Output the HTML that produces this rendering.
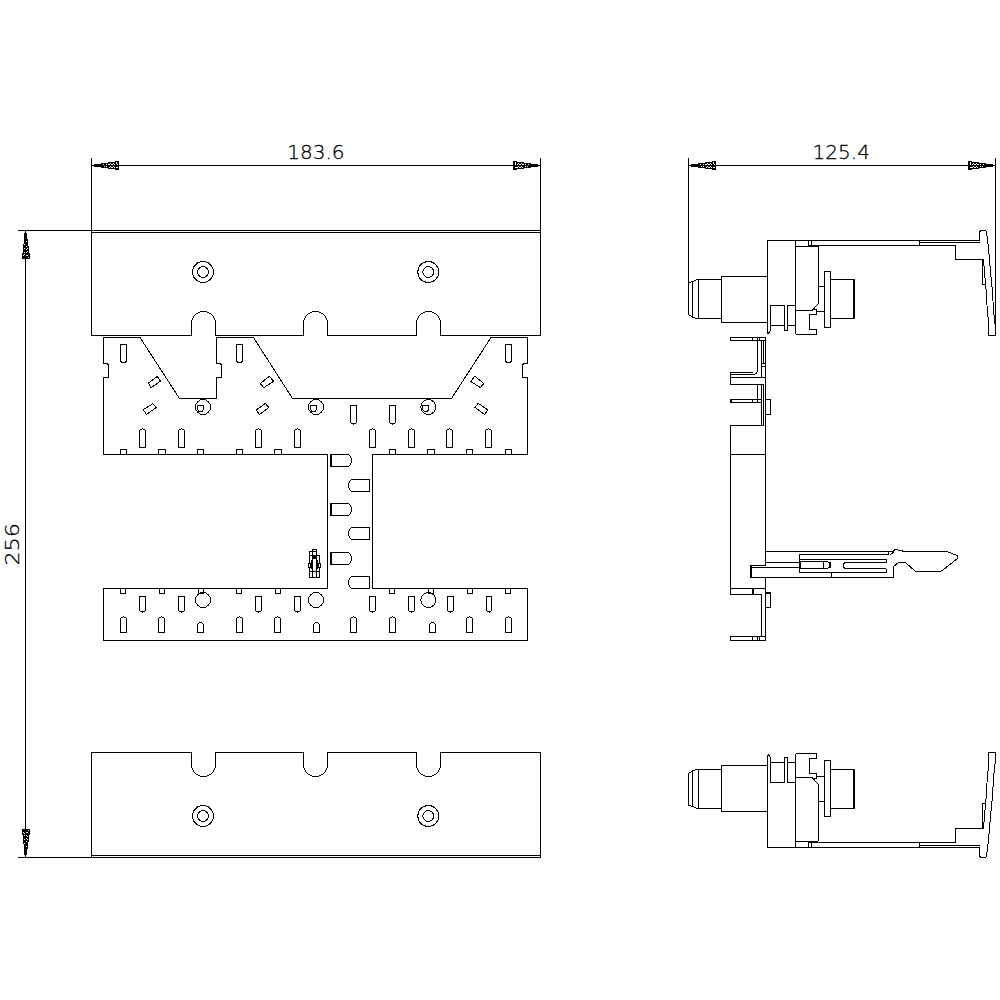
<!DOCTYPE html>
<html lang="en">
<head>
<meta charset="utf-8">
<title>Dimension drawing</title>
<style>
html,body{margin:0;padding:0;background:#fff;}
body{width:1000px;height:1000px;overflow:hidden;}
svg{display:block;}
svg *{vector-effect:none;}
.g{fill:none;stroke:#000;stroke-width:1;shape-rendering:crispEdges;}
.g .c{shape-rendering:crispEdges;}
text{font-family:"DejaVu Sans Light","DejaVu Sans","Liberation Sans",sans-serif;font-weight:200;fill:#000;stroke:#000;stroke-width:0.3;}
</style>
</head>
<body>
<svg width="1000" height="1000" viewBox="0 0 1000 1000">
<rect x="0" y="0" width="1000" height="1000" fill="#fff"/>
<g class="g">
<g>
<path d="M91.5,232.5 V335.5 H191.5 V323.5 A12,12 0 0 1 215.5,323.5 V335.5 H303.5 V323.5 A12,12 0 0 1 327.5,323.5 V335.5 H416.5 V323.5 A12,12 0 0 1 440.5,323.5 V335.5 H540.5 V232.5" />
<line x1="91.5" y1="232.5" x2="540.5" y2="232.5" />
<line x1="91.5" y1="230.5" x2="540.5" y2="230.5" />
<line x1="91.5" y1="230.5" x2="91.5" y2="232.5" />
<line x1="540.5" y1="230.5" x2="540.5" y2="232.5" />
<circle cx="203" cy="272" r="10.5" class="c"/>
<circle cx="203" cy="272" r="5.4" class="c"/>
<circle cx="428.3" cy="272" r="10.5" class="c"/>
<circle cx="428.3" cy="272" r="5.4" class="c"/>
</g>
<g transform="translate(0,1088) scale(1,-1)">
<path d="M91.5,232.5 V335.5 H191.5 V323.5 A12,12 0 0 1 215.5,323.5 V335.5 H303.5 V323.5 A12,12 0 0 1 327.5,323.5 V335.5 H416.5 V323.5 A12,12 0 0 1 440.5,323.5 V335.5 H540.5 V232.5" />
<line x1="91.5" y1="232.5" x2="540.5" y2="232.5" />
<line x1="91.5" y1="230.5" x2="540.5" y2="230.5" />
<line x1="91.5" y1="230.5" x2="91.5" y2="232.5" />
<line x1="540.5" y1="230.5" x2="540.5" y2="232.5" />
<circle cx="203" cy="272" r="10.5" class="c"/>
<circle cx="203" cy="272" r="5.4" class="c"/>
<circle cx="428.3" cy="272" r="10.5" class="c"/>
<circle cx="428.3" cy="272" r="5.4" class="c"/>
</g>
<path d="M103.5,337.5 H140 L179.5,398.5 H216.5 V377.5 H221.5 V365 L220,363.5 H216.5 V337.5 H253.5 L292.5,398.5 H451.5 L491,337.5 H527.5 V363.5 H524 L522.5,365 V377.5 H527.5 V454.5 H372.5 V588.5 H527.5 V640.5 H103.5 V588.5 H327.5 V454.5 H103.5 V377.5 H108.5 V365 L107,363.5 H103.5 Z" />
<path d="M120.5,344.5 H126.5 V359.5 A3.0,3.0 0 0 1 120.5,359.5 Z" />
<path d="M236.5,344.5 H242.5 V359.5 A3.0,3.0 0 0 1 236.5,359.5 Z" />
<path d="M505.5,344.5 H511.5 V359.5 A3.0,3.0 0 0 1 505.5,359.5 Z" />
<polygon class="c" points="148.3,383.2 157.3,376.3 160.5,381.1 151.2,387.7"/>
<polygon class="c" points="143.2,409.6 152.8,403.7 156.3,407.5 146.4,414.4"/>
<polygon class="c" points="260.3,383.5 269.3,376.3 273.6,381.3 263.7,387.7"/>
<polygon class="c" points="256.3,409.9 265.3,403.5 268.8,407.5 259.5,414.6"/>
<polygon class="c" points="470.8,381.5 474.8,376.3 483.8,383.5 480.3,387.6"/>
<polygon class="c" points="475,407.5 478.3,403.3 487.8,410 484.5,414.5"/>
<circle cx="203" cy="407" r="7.5" class="c"/>
<circle cx="316" cy="407" r="7.5" class="c"/>
<circle cx="428.3" cy="407" r="7.5" class="c"/>
<path d="M197.5,405.5 H203.5 V409.5 L202.0,411.5 H199.0 L197.5,409.5 Z" />
<path d="M310.5,405.5 H316.5 V409.5 L315.0,411.5 H312.0 L310.5,409.5 Z" />
<path d="M422.8,405.5 H428.8 V409.5 L427.3,411.5 H424.3 L422.8,409.5 Z" />
<path d="M350.5,423.0 V405.5 H356.5 V423.0" />
<line x1="351.0" y1="423.5" x2="356.0" y2="423.5" />
<rect x="353.0" y="424.0" width="1" height="1" fill="#000" stroke="none"/>
<path d="M389.5,423.0 V405.5 H395.5 V423.0" />
<line x1="390.0" y1="423.5" x2="395.0" y2="423.5" />
<rect x="392.0" y="424.0" width="1" height="1" fill="#000" stroke="none"/>
<path d="M139.5,430.0 V447.5 H145.5 V430.0" />
<rect x="142.0" y="428.0" width="1" height="1" fill="#000" stroke="none"/>
<rect x="140.0" y="429.0" width="2.0" height="1" fill="#000" stroke="none"/>
<rect x="143.0" y="429.0" width="2.0" height="1" fill="#000" stroke="none"/>
<path d="M178.5,430.0 V447.5 H184.5 V430.0" />
<rect x="181.0" y="428.0" width="1" height="1" fill="#000" stroke="none"/>
<rect x="179.0" y="429.0" width="2.0" height="1" fill="#000" stroke="none"/>
<rect x="182.0" y="429.0" width="2.0" height="1" fill="#000" stroke="none"/>
<path d="M255.5,430.0 V447.5 H261.5 V430.0" />
<rect x="258.0" y="428.0" width="1" height="1" fill="#000" stroke="none"/>
<rect x="256.0" y="429.0" width="2.0" height="1" fill="#000" stroke="none"/>
<rect x="259.0" y="429.0" width="2.0" height="1" fill="#000" stroke="none"/>
<path d="M294.5,430.0 V447.5 H300.5 V430.0" />
<rect x="297.0" y="428.0" width="1" height="1" fill="#000" stroke="none"/>
<rect x="295.0" y="429.0" width="2.0" height="1" fill="#000" stroke="none"/>
<rect x="298.0" y="429.0" width="2.0" height="1" fill="#000" stroke="none"/>
<path d="M369.5,430.0 V447.5 H375.5 V430.0" />
<rect x="372.0" y="428.0" width="1" height="1" fill="#000" stroke="none"/>
<rect x="370.0" y="429.0" width="2.0" height="1" fill="#000" stroke="none"/>
<rect x="373.0" y="429.0" width="2.0" height="1" fill="#000" stroke="none"/>
<path d="M408.5,430.0 V447.5 H414.5 V430.0" />
<rect x="411.0" y="428.0" width="1" height="1" fill="#000" stroke="none"/>
<rect x="409.0" y="429.0" width="2.0" height="1" fill="#000" stroke="none"/>
<rect x="412.0" y="429.0" width="2.0" height="1" fill="#000" stroke="none"/>
<path d="M446.5,430.0 V447.5 H452.5 V430.0" />
<rect x="449.0" y="428.0" width="1" height="1" fill="#000" stroke="none"/>
<rect x="447.0" y="429.0" width="2.0" height="1" fill="#000" stroke="none"/>
<rect x="450.0" y="429.0" width="2.0" height="1" fill="#000" stroke="none"/>
<path d="M485.5,430.0 V447.5 H491.5 V430.0" />
<rect x="488.0" y="428.0" width="1" height="1" fill="#000" stroke="none"/>
<rect x="486.0" y="429.0" width="2.0" height="1" fill="#000" stroke="none"/>
<rect x="489.0" y="429.0" width="2.0" height="1" fill="#000" stroke="none"/>
<rect x="120.5" y="449.5" width="6.0" height="5.0" />
<rect x="158.5" y="449.5" width="7.0" height="5.0" />
<rect x="197.5" y="449.5" width="6.0" height="5.0" />
<rect x="236.5" y="449.5" width="6.0" height="5.0" />
<rect x="274.5" y="449.5" width="7.0" height="5.0" />
<rect x="389.5" y="449.5" width="6.0" height="5.0" />
<rect x="427.5" y="449.5" width="7.0" height="5.0" />
<rect x="466.5" y="449.5" width="6.0" height="5.0" />
<rect x="505.5" y="449.5" width="6.0" height="5.0" />
<path d="M330.5,454.5 H347 A4.5,6 0 0 1 347,466.5 H330.5 Z" class="c"/>
<line x1="331.5" y1="454.5" x2="331.5" y2="466.5" />
<path d="M330.5,503.5 H347 A4.5,6 0 0 1 347,515.5 H330.5 Z" class="c"/>
<line x1="331.5" y1="503.5" x2="331.5" y2="515.5" />
<path d="M330.5,552.5 H347 A4.5,6 0 0 1 347,564.5 H330.5 Z" class="c"/>
<line x1="331.5" y1="552.5" x2="331.5" y2="564.5" />
<path d="M369.5,479.5 H353 A4.5,6 0 0 0 353,491.5 H369.5 Z" class="c"/>
<path d="M369.5,527.5 H353 A4.5,6 0 0 0 353,539.5 H369.5 Z" class="c"/>
<path d="M369.5,576.5 H353 A4.5,6 0 0 0 353,588.5 H369.5 Z" class="c"/>
<rect x="120.5" y="588.5" width="5.0" height="5.0" />
<rect x="159.5" y="588.5" width="5.0" height="5.0" />
<rect x="198.5" y="588.5" width="5.0" height="5.0" />
<rect x="236.5" y="588.5" width="5.0" height="5.0" />
<rect x="275.5" y="588.5" width="5.0" height="5.0" />
<rect x="389.5" y="588.5" width="5.0" height="5.0" />
<rect x="428.5" y="588.5" width="5.0" height="5.0" />
<rect x="467.5" y="588.5" width="5.0" height="5.0" />
<rect x="505.5" y="588.5" width="5.0" height="5.0" />
<path d="M139.5,611.0 V596.5 H145.5 V611.0" />
<line x1="140.0" y1="611.5" x2="145.0" y2="611.5" />
<rect x="142.0" y="612.0" width="1" height="1" fill="#000" stroke="none"/>
<path d="M178.5,611.0 V596.5 H184.5 V611.0" />
<line x1="179.0" y1="611.5" x2="184.0" y2="611.5" />
<rect x="181.0" y="612.0" width="1" height="1" fill="#000" stroke="none"/>
<path d="M255.5,611.0 V596.5 H261.5 V611.0" />
<line x1="256.0" y1="611.5" x2="261.0" y2="611.5" />
<rect x="258.0" y="612.0" width="1" height="1" fill="#000" stroke="none"/>
<path d="M294.5,611.0 V596.5 H300.5 V611.0" />
<line x1="295.0" y1="611.5" x2="300.0" y2="611.5" />
<rect x="297.0" y="612.0" width="1" height="1" fill="#000" stroke="none"/>
<path d="M369.5,611.0 V596.5 H375.5 V611.0" />
<line x1="370.0" y1="611.5" x2="375.0" y2="611.5" />
<rect x="372.0" y="612.0" width="1" height="1" fill="#000" stroke="none"/>
<path d="M408.5,611.0 V596.5 H414.5 V611.0" />
<line x1="409.0" y1="611.5" x2="414.0" y2="611.5" />
<rect x="411.0" y="612.0" width="1" height="1" fill="#000" stroke="none"/>
<path d="M447.5,611.0 V596.5 H453.5 V611.0" />
<line x1="448.0" y1="611.5" x2="453.0" y2="611.5" />
<rect x="450.0" y="612.0" width="1" height="1" fill="#000" stroke="none"/>
<path d="M486.5,611.0 V596.5 H491.5 V611.0" />
<line x1="487.0" y1="611.5" x2="491.0" y2="611.5" />
<rect x="488.5" y="612.0" width="1" height="1" fill="#000" stroke="none"/>
<circle cx="203" cy="600" r="7.5" class="c"/>
<circle cx="316" cy="600" r="7.5" class="c"/>
<circle cx="428.3" cy="600" r="7.5" class="c"/>
<path d="M120.5,618.0 V632.5 H126.5 V618.0" />
<rect x="123.0" y="616.0" width="1" height="1" fill="#000" stroke="none"/>
<rect x="121.0" y="617.0" width="2.0" height="1" fill="#000" stroke="none"/>
<rect x="124.0" y="617.0" width="2.0" height="1" fill="#000" stroke="none"/>
<path d="M158.5,618.0 V632.5 H164.5 V618.0" />
<rect x="161.0" y="616.0" width="1" height="1" fill="#000" stroke="none"/>
<rect x="159.0" y="617.0" width="2.0" height="1" fill="#000" stroke="none"/>
<rect x="162.0" y="617.0" width="2.0" height="1" fill="#000" stroke="none"/>
<path d="M236.5,618.0 V632.5 H242.5 V618.0" />
<rect x="239.0" y="616.0" width="1" height="1" fill="#000" stroke="none"/>
<rect x="237.0" y="617.0" width="2.0" height="1" fill="#000" stroke="none"/>
<rect x="240.0" y="617.0" width="2.0" height="1" fill="#000" stroke="none"/>
<path d="M274.5,618.0 V632.5 H280.5 V618.0" />
<rect x="277.0" y="616.0" width="1" height="1" fill="#000" stroke="none"/>
<rect x="275.0" y="617.0" width="2.0" height="1" fill="#000" stroke="none"/>
<rect x="278.0" y="617.0" width="2.0" height="1" fill="#000" stroke="none"/>
<path d="M350.5,618.0 V632.5 H356.5 V618.0" />
<rect x="353.0" y="616.0" width="1" height="1" fill="#000" stroke="none"/>
<rect x="351.0" y="617.0" width="2.0" height="1" fill="#000" stroke="none"/>
<rect x="354.0" y="617.0" width="2.0" height="1" fill="#000" stroke="none"/>
<path d="M389.5,618.0 V632.5 H395.5 V618.0" />
<rect x="392.0" y="616.0" width="1" height="1" fill="#000" stroke="none"/>
<rect x="390.0" y="617.0" width="2.0" height="1" fill="#000" stroke="none"/>
<rect x="393.0" y="617.0" width="2.0" height="1" fill="#000" stroke="none"/>
<path d="M466.5,618.0 V632.5 H472.5 V618.0" />
<rect x="469.0" y="616.0" width="1" height="1" fill="#000" stroke="none"/>
<rect x="467.0" y="617.0" width="2.0" height="1" fill="#000" stroke="none"/>
<rect x="470.0" y="617.0" width="2.0" height="1" fill="#000" stroke="none"/>
<path d="M505.5,618.0 V632.5 H511.5 V618.0" />
<rect x="508.0" y="616.0" width="1" height="1" fill="#000" stroke="none"/>
<rect x="506.0" y="617.0" width="2.0" height="1" fill="#000" stroke="none"/>
<rect x="509.0" y="617.0" width="2.0" height="1" fill="#000" stroke="none"/>
<path d="M197.5,632.5 H203.5 V625.5 A3.0,3.0 0 0 0 197.5,625.5 Z" />
<path d="M313.5,632.5 H319.5 V625.5 A3.0,3.0 0 0 0 313.5,625.5 Z" />
<path d="M429.5,632.5 H435.5 V625.5 A3.0,3.0 0 0 0 429.5,625.5 Z" />
<g>
<path d="M309.5,577.5 V551.5 H316.5 M309.5,555.5 H319.5 V577.5 H309.5" />
<rect x="312.5" y="549.5" width="4.0" height="2.0" />
<line x1="312.5" y1="549.5" x2="312.5" y2="577.5" />
<line x1="316.5" y1="549.5" x2="316.5" y2="577.5" />
<rect x="312" y="556" width="5" height="3" fill="#000" stroke="none"/>
<rect x="311" y="560" width="7" height="9" fill="#000" stroke="none"/>
<rect x="308" y="563" width="13" height="5" fill="#000" stroke="none"/>
<rect x="313" y="559" width="3" height="12" fill="#fff" stroke="none"/>
<rect x="309" y="564" width="1" height="3" fill="#fff" stroke="none"/>
<rect x="319" y="564" width="1" height="3" fill="#fff" stroke="none"/>
<line x1="309.5" y1="571.5" x2="319.5" y2="571.5" />
</g>
<line x1="91.5" y1="158" x2="91.5" y2="230.5" />
<line x1="540.5" y1="158" x2="540.5" y2="230.5" />
<line x1="91.5" y1="165.5" x2="540.5" y2="165.5" />
<rect x="94.0" y="164.0" width="7.0" height="3.0" fill="#000" stroke="none"/>
<rect x="101.0" y="163.0" width="7.0" height="5.0" fill="#000" stroke="none"/>
<rect x="108.0" y="162.0" width="7.0" height="7.0" fill="#000" stroke="none"/>
<rect x="115.0" y="161.0" width="4.0" height="9.0" fill="#000" stroke="none"/>
<rect x="103.0" y="164.0" width="1" height="1" fill="#fff" stroke="none"/>
<rect x="106.0" y="164.0" width="1" height="1" fill="#fff" stroke="none"/>
<rect x="104.0" y="166.0" width="1" height="1" fill="#fff" stroke="none"/>
<rect x="106.0" y="166.0" width="1" height="1" fill="#fff" stroke="none"/>
<rect x="108.0" y="164.0" width="1" height="1" fill="#fff" stroke="none"/>
<rect x="109.0" y="164.0" width="1" height="1" fill="#fff" stroke="none"/>
<rect x="110.0" y="163.0" width="1" height="1" fill="#fff" stroke="none"/>
<rect x="111.0" y="164.0" width="1" height="1" fill="#fff" stroke="none"/>
<rect x="112.0" y="164.0" width="1" height="1" fill="#fff" stroke="none"/>
<rect x="113.0" y="163.0" width="1" height="1" fill="#fff" stroke="none"/>
<rect x="114.0" y="164.0" width="1" height="1" fill="#fff" stroke="none"/>
<rect x="109.0" y="167.0" width="1" height="1" fill="#fff" stroke="none"/>
<rect x="110.0" y="166.0" width="1" height="1" fill="#fff" stroke="none"/>
<rect x="111.0" y="167.0" width="1" height="1" fill="#fff" stroke="none"/>
<rect x="112.0" y="167.0" width="1" height="1" fill="#fff" stroke="none"/>
<rect x="113.0" y="166.0" width="1" height="1" fill="#fff" stroke="none"/>
<rect x="114.0" y="167.0" width="1" height="1" fill="#fff" stroke="none"/>
<rect x="115.5" y="167.0" width="1" height="1" fill="#fff" stroke="none"/>
<rect x="116.5" y="167.0" width="1" height="1" fill="#fff" stroke="none"/>
<rect x="116.0" y="162.0" width="1" height="1" fill="#fff" stroke="none"/>
<rect x="116.0" y="163.0" width="1" height="1" fill="#fff" stroke="none"/>
<rect x="116.5" y="164.0" width="1" height="1" fill="#fff" stroke="none"/>
<rect x="531.0" y="164.0" width="7.0" height="3.0" fill="#000" stroke="none"/>
<rect x="524.0" y="163.0" width="7.0" height="5.0" fill="#000" stroke="none"/>
<rect x="517.0" y="162.0" width="7.0" height="7.0" fill="#000" stroke="none"/>
<rect x="513.0" y="161.0" width="4.0" height="9.0" fill="#000" stroke="none"/>
<rect x="528.0" y="164.0" width="1" height="1" fill="#fff" stroke="none"/>
<rect x="525.0" y="164.0" width="1" height="1" fill="#fff" stroke="none"/>
<rect x="527.0" y="166.0" width="1" height="1" fill="#fff" stroke="none"/>
<rect x="525.0" y="166.0" width="1" height="1" fill="#fff" stroke="none"/>
<rect x="523.0" y="164.0" width="1" height="1" fill="#fff" stroke="none"/>
<rect x="522.0" y="164.0" width="1" height="1" fill="#fff" stroke="none"/>
<rect x="521.0" y="163.0" width="1" height="1" fill="#fff" stroke="none"/>
<rect x="520.0" y="164.0" width="1" height="1" fill="#fff" stroke="none"/>
<rect x="519.0" y="164.0" width="1" height="1" fill="#fff" stroke="none"/>
<rect x="518.0" y="163.0" width="1" height="1" fill="#fff" stroke="none"/>
<rect x="517.0" y="164.0" width="1" height="1" fill="#fff" stroke="none"/>
<rect x="522.0" y="167.0" width="1" height="1" fill="#fff" stroke="none"/>
<rect x="521.0" y="166.0" width="1" height="1" fill="#fff" stroke="none"/>
<rect x="520.0" y="167.0" width="1" height="1" fill="#fff" stroke="none"/>
<rect x="519.0" y="167.0" width="1" height="1" fill="#fff" stroke="none"/>
<rect x="518.0" y="166.0" width="1" height="1" fill="#fff" stroke="none"/>
<rect x="517.0" y="167.0" width="1" height="1" fill="#fff" stroke="none"/>
<rect x="515.5" y="167.0" width="1" height="1" fill="#fff" stroke="none"/>
<rect x="514.5" y="167.0" width="1" height="1" fill="#fff" stroke="none"/>
<rect x="515.0" y="162.0" width="1" height="1" fill="#fff" stroke="none"/>
<rect x="515.0" y="163.0" width="1" height="1" fill="#fff" stroke="none"/>
<rect x="514.5" y="164.0" width="1" height="1" fill="#fff" stroke="none"/>
<line x1="18" y1="230.5" x2="91.5" y2="230.5" />
<line x1="18" y1="857.5" x2="91.5" y2="857.5" />
<line x1="25.5" y1="230.5" x2="25.5" y2="857.5" />
<rect x="24.0" y="233.0" width="3.0" height="6.0" fill="#000" stroke="none"/>
<rect x="24.0" y="239.0" width="4.0" height="5.0" fill="#000" stroke="none"/>
<rect x="23.0" y="244.0" width="5.0" height="2.0" fill="#000" stroke="none"/>
<rect x="23.0" y="246.0" width="6.0" height="7.0" fill="#000" stroke="none"/>
<rect x="22.0" y="253.0" width="8.0" height="6.0" fill="#000" stroke="none"/>
<rect x="26.0" y="241.0" width="1" height="1" fill="#fff" stroke="none"/>
<rect x="24.0" y="244.0" width="1" height="1" fill="#fff" stroke="none"/>
<rect x="26.0" y="246.0" width="1" height="1" fill="#fff" stroke="none"/>
<rect x="24.0" y="248.0" width="1" height="1" fill="#fff" stroke="none"/>
<rect x="27.0" y="248.0" width="1" height="1" fill="#fff" stroke="none"/>
<rect x="26.0" y="249.0" width="1" height="1" fill="#fff" stroke="none"/>
<rect x="27.0" y="251.0" width="1" height="1" fill="#fff" stroke="none"/>
<rect x="24.0" y="252.0" width="1" height="1" fill="#fff" stroke="none"/>
<rect x="26.0" y="252.0" width="1" height="1" fill="#fff" stroke="none"/>
<rect x="23.0" y="255.0" width="1" height="1" fill="#fff" stroke="none"/>
<rect x="24.0" y="254.0" width="1" height="1" fill="#fff" stroke="none"/>
<rect x="26.0" y="255.0" width="1" height="1" fill="#fff" stroke="none"/>
<rect x="27.0" y="255.0" width="1" height="1" fill="#fff" stroke="none"/>
<rect x="28.0" y="257.0" width="1" height="1" fill="#fff" stroke="none"/>
<rect x="24.0" y="849.0" width="3.0" height="6.0" fill="#000" stroke="none"/>
<rect x="24.0" y="844.0" width="4.0" height="5.0" fill="#000" stroke="none"/>
<rect x="23.0" y="842.0" width="5.0" height="2.0" fill="#000" stroke="none"/>
<rect x="23.0" y="835.0" width="6.0" height="7.0" fill="#000" stroke="none"/>
<rect x="22.0" y="829.0" width="8.0" height="6.0" fill="#000" stroke="none"/>
<rect x="26.0" y="846.0" width="1" height="1" fill="#fff" stroke="none"/>
<rect x="24.0" y="843.0" width="1" height="1" fill="#fff" stroke="none"/>
<rect x="26.0" y="841.0" width="1" height="1" fill="#fff" stroke="none"/>
<rect x="24.0" y="839.0" width="1" height="1" fill="#fff" stroke="none"/>
<rect x="27.0" y="839.0" width="1" height="1" fill="#fff" stroke="none"/>
<rect x="26.0" y="838.0" width="1" height="1" fill="#fff" stroke="none"/>
<rect x="27.0" y="836.0" width="1" height="1" fill="#fff" stroke="none"/>
<rect x="24.0" y="835.0" width="1" height="1" fill="#fff" stroke="none"/>
<rect x="26.0" y="835.0" width="1" height="1" fill="#fff" stroke="none"/>
<rect x="23.0" y="832.0" width="1" height="1" fill="#fff" stroke="none"/>
<rect x="24.0" y="833.0" width="1" height="1" fill="#fff" stroke="none"/>
<rect x="26.0" y="832.0" width="1" height="1" fill="#fff" stroke="none"/>
<rect x="27.0" y="832.0" width="1" height="1" fill="#fff" stroke="none"/>
<rect x="28.0" y="830.0" width="1" height="1" fill="#fff" stroke="none"/>
<line x1="688.5" y1="158" x2="688.5" y2="315" />
<line x1="995.5" y1="158" x2="995.5" y2="335.5" />
<line x1="688.5" y1="165.5" x2="995.5" y2="165.5" />
<rect x="691.0" y="164.0" width="7.0" height="3.0" fill="#000" stroke="none"/>
<rect x="698.0" y="163.0" width="7.0" height="5.0" fill="#000" stroke="none"/>
<rect x="705.0" y="162.0" width="7.0" height="7.0" fill="#000" stroke="none"/>
<rect x="712.0" y="161.0" width="4.0" height="9.0" fill="#000" stroke="none"/>
<rect x="700.0" y="164.0" width="1" height="1" fill="#fff" stroke="none"/>
<rect x="703.0" y="164.0" width="1" height="1" fill="#fff" stroke="none"/>
<rect x="701.0" y="166.0" width="1" height="1" fill="#fff" stroke="none"/>
<rect x="703.0" y="166.0" width="1" height="1" fill="#fff" stroke="none"/>
<rect x="705.0" y="164.0" width="1" height="1" fill="#fff" stroke="none"/>
<rect x="706.0" y="164.0" width="1" height="1" fill="#fff" stroke="none"/>
<rect x="707.0" y="163.0" width="1" height="1" fill="#fff" stroke="none"/>
<rect x="708.0" y="164.0" width="1" height="1" fill="#fff" stroke="none"/>
<rect x="709.0" y="164.0" width="1" height="1" fill="#fff" stroke="none"/>
<rect x="710.0" y="163.0" width="1" height="1" fill="#fff" stroke="none"/>
<rect x="711.0" y="164.0" width="1" height="1" fill="#fff" stroke="none"/>
<rect x="706.0" y="167.0" width="1" height="1" fill="#fff" stroke="none"/>
<rect x="707.0" y="166.0" width="1" height="1" fill="#fff" stroke="none"/>
<rect x="708.0" y="167.0" width="1" height="1" fill="#fff" stroke="none"/>
<rect x="709.0" y="167.0" width="1" height="1" fill="#fff" stroke="none"/>
<rect x="710.0" y="166.0" width="1" height="1" fill="#fff" stroke="none"/>
<rect x="711.0" y="167.0" width="1" height="1" fill="#fff" stroke="none"/>
<rect x="712.5" y="167.0" width="1" height="1" fill="#fff" stroke="none"/>
<rect x="713.5" y="167.0" width="1" height="1" fill="#fff" stroke="none"/>
<rect x="713.0" y="162.0" width="1" height="1" fill="#fff" stroke="none"/>
<rect x="713.0" y="163.0" width="1" height="1" fill="#fff" stroke="none"/>
<rect x="713.5" y="164.0" width="1" height="1" fill="#fff" stroke="none"/>
<rect x="986.0" y="164.0" width="7.0" height="3.0" fill="#000" stroke="none"/>
<rect x="979.0" y="163.0" width="7.0" height="5.0" fill="#000" stroke="none"/>
<rect x="972.0" y="162.0" width="7.0" height="7.0" fill="#000" stroke="none"/>
<rect x="968.0" y="161.0" width="4.0" height="9.0" fill="#000" stroke="none"/>
<rect x="983.0" y="164.0" width="1" height="1" fill="#fff" stroke="none"/>
<rect x="980.0" y="164.0" width="1" height="1" fill="#fff" stroke="none"/>
<rect x="982.0" y="166.0" width="1" height="1" fill="#fff" stroke="none"/>
<rect x="980.0" y="166.0" width="1" height="1" fill="#fff" stroke="none"/>
<rect x="978.0" y="164.0" width="1" height="1" fill="#fff" stroke="none"/>
<rect x="977.0" y="164.0" width="1" height="1" fill="#fff" stroke="none"/>
<rect x="976.0" y="163.0" width="1" height="1" fill="#fff" stroke="none"/>
<rect x="975.0" y="164.0" width="1" height="1" fill="#fff" stroke="none"/>
<rect x="974.0" y="164.0" width="1" height="1" fill="#fff" stroke="none"/>
<rect x="973.0" y="163.0" width="1" height="1" fill="#fff" stroke="none"/>
<rect x="972.0" y="164.0" width="1" height="1" fill="#fff" stroke="none"/>
<rect x="977.0" y="167.0" width="1" height="1" fill="#fff" stroke="none"/>
<rect x="976.0" y="166.0" width="1" height="1" fill="#fff" stroke="none"/>
<rect x="975.0" y="167.0" width="1" height="1" fill="#fff" stroke="none"/>
<rect x="974.0" y="167.0" width="1" height="1" fill="#fff" stroke="none"/>
<rect x="973.0" y="166.0" width="1" height="1" fill="#fff" stroke="none"/>
<rect x="972.0" y="167.0" width="1" height="1" fill="#fff" stroke="none"/>
<rect x="970.5" y="167.0" width="1" height="1" fill="#fff" stroke="none"/>
<rect x="969.5" y="167.0" width="1" height="1" fill="#fff" stroke="none"/>
<rect x="970.0" y="162.0" width="1" height="1" fill="#fff" stroke="none"/>
<rect x="970.0" y="163.0" width="1" height="1" fill="#fff" stroke="none"/>
<rect x="969.5" y="164.0" width="1" height="1" fill="#fff" stroke="none"/>
<g>
<path d="M688.5,282 V315 M688,282.5 H691 M691,281.5 H694 M694,280.5 H696 M696,279.5 H721.5 M689,315.5 H691 M691,316.5 H692 M692,317.5 H695 M695,318.5 H721.5" />
<line x1="692.5" y1="281" x2="692.5" y2="318" />
<line x1="698.5" y1="279" x2="698.5" y2="319" />
<rect x="721.5" y="276.5" width="46.0" height="46.0" />
<path d="M767.5,333.5 V240.5 H979.5 V232 L981,230.5 H985.5 L986.5,232 L988.5,248 L990.5,272 L992.5,292 L993.5,310 L994.5,320 L995.5,328 V335.5 H988.5 V318 L987.5,316 L986.5,294 L985.5,284.5 L983.5,259.5 H955.5 V245.5 H811.5" />
<path d="M767.5,333.5 H768.5 L770.5,330 V305.5 H784.5 V330.5 H787.5 V305.5 H795.5" />
<line x1="770.5" y1="325.5" x2="784.5" y2="325.5" />
<line x1="787.5" y1="325.5" x2="795.5" y2="325.5" />
<line x1="795.5" y1="240.5" x2="795.5" y2="333" />
<path d="M795.5,333 L796.5,334.5 H816.5 V329.5 H809.5 V314.5 H816.5 V309.5 H812 M795.5,310.5 H812 L818.5,303.5 V248 Q818.5,246.5 817,246.5 H795.5" />
<line x1="808.5" y1="245.5" x2="817" y2="245.5" />
<line x1="808.5" y1="240.5" x2="808.5" y2="246.5" />
<line x1="811.5" y1="240.5" x2="811.5" y2="246.5" />
<line x1="816.5" y1="311.5" x2="824.5" y2="311.5" />
<line x1="818.5" y1="286.5" x2="824.5" y2="286.5" />
<rect x="824.5" y="271.5" width="6.0" height="56.0" />
<path d="M830.5,279.5 H854 V318.5 H830.5" />
<line x1="854" y1="279" x2="854" y2="319" stroke-width="2"/>
<line x1="919.5" y1="240.5" x2="919.5" y2="245.5" />
<line x1="919.5" y1="242.5" x2="979.5" y2="242.5" />
<path d="M982.5,259.5 V284.5 H985.5" />
</g>
<g transform="translate(0,1088) scale(1,-1)">
<path d="M688.5,282 V315 M688,282.5 H691 M691,281.5 H694 M694,280.5 H696 M696,279.5 H721.5 M689,315.5 H691 M691,316.5 H692 M692,317.5 H695 M695,318.5 H721.5" />
<line x1="692.5" y1="281" x2="692.5" y2="318" />
<line x1="698.5" y1="279" x2="698.5" y2="319" />
<rect x="721.5" y="276.5" width="46.0" height="46.0" />
<path d="M767.5,333.5 V240.5 H979.5 V232 L981,230.5 H985.5 L986.5,232 L988.5,248 L990.5,272 L992.5,292 L993.5,310 L994.5,320 L995.5,328 V335.5 H988.5 V318 L987.5,316 L986.5,294 L985.5,284.5 L983.5,259.5 H955.5 V245.5 H811.5" />
<path d="M767.5,333.5 H768.5 L770.5,330 V305.5 H784.5 V330.5 H787.5 V305.5 H795.5" />
<line x1="770.5" y1="325.5" x2="784.5" y2="325.5" />
<line x1="787.5" y1="325.5" x2="795.5" y2="325.5" />
<line x1="795.5" y1="240.5" x2="795.5" y2="333" />
<path d="M795.5,333 L796.5,334.5 H816.5 V329.5 H809.5 V314.5 H816.5 V309.5 H812 M795.5,310.5 H812 L818.5,303.5 V248 Q818.5,246.5 817,246.5 H795.5" />
<line x1="808.5" y1="245.5" x2="817" y2="245.5" />
<line x1="808.5" y1="240.5" x2="808.5" y2="246.5" />
<line x1="811.5" y1="240.5" x2="811.5" y2="246.5" />
<line x1="816.5" y1="311.5" x2="824.5" y2="311.5" />
<line x1="818.5" y1="286.5" x2="824.5" y2="286.5" />
<rect x="824.5" y="271.5" width="6.0" height="56.0" />
<path d="M830.5,279.5 H854 V318.5 H830.5" />
<line x1="854" y1="279" x2="854" y2="319" stroke-width="2"/>
<line x1="919.5" y1="240.5" x2="919.5" y2="245.5" />
<line x1="919.5" y1="242.5" x2="979.5" y2="242.5" />
<path d="M982.5,259.5 V284.5 H985.5" />
</g>
<rect x="730.5" y="337.5" width="35.0" height="3.0" />
<line x1="752.5" y1="337.5" x2="752.5" y2="340.5" />
<line x1="757.5" y1="337.5" x2="757.5" y2="369.5" />
<line x1="759.5" y1="337.5" x2="759.5" y2="340.5" />
<path d="M757.5,369.5 Q757.5,374.5 752.5,374.5 H730.5" />
<path d="M753,372.5 H730.5 V384.5 H763.5" />
<line x1="730.5" y1="377.5" x2="765.5" y2="377.5" />
<line x1="765.5" y1="337.5" x2="765.5" y2="565.5" />
<line x1="761.5" y1="340.5" x2="761.5" y2="377.5" />
<line x1="763.5" y1="340.5" x2="763.5" y2="363.5" />
<line x1="759.5" y1="340.5" x2="763.5" y2="340.5" />
<rect x="761.5" y="363.5" width="4.0" height="3.0" />
<line x1="757.5" y1="384.5" x2="757.5" y2="402.5" />
<line x1="761.5" y1="384.5" x2="761.5" y2="425.5" />
<line x1="763.5" y1="384.5" x2="763.5" y2="425.5" />
<rect x="730.5" y="399.5" width="31.0" height="3.0" />
<line x1="731.5" y1="399.5" x2="731.5" y2="402.5" />
<line x1="752.5" y1="399.5" x2="752.5" y2="402.5" />
<rect x="765.5" y="399.5" width="5.0" height="15.0" />
<path d="M763.5,425.5 H730.5 V594.5 H761.5 V636.5" />
<line x1="730.5" y1="454.5" x2="765.5" y2="454.5" />
<line x1="730.5" y1="588.5" x2="765.5" y2="588.5" />
<line x1="753" y1="588.5" x2="753" y2="594.5" stroke-width="2"/>
<line x1="765.5" y1="577.5" x2="765.5" y2="640.5" />
<rect x="730.5" y="636.5" width="35.0" height="4.0" />
<line x1="752.5" y1="636.5" x2="752.5" y2="640.5" />
<line x1="757.5" y1="636.5" x2="757.5" y2="640.5" />
<line x1="759.5" y1="636.5" x2="759.5" y2="640.5" />
<rect x="765.5" y="592.5" width="5.0" height="15.0" />
<line x1="765.5" y1="593" x2="770.5" y2="593" stroke-width="2"/>
<path d="M765.5,551.5 H893.5 L894.5,549.5 L902,550.5 L903,551.5 H946.5 L957.5,555.5 V558.5 L943.5,569.5 L940.5,571.5 H915.5 L905.5,562.5 H898.5 L893.5,566.5 V577.5 H750.5 V565.5 H765.5" />
<line x1="751.5" y1="565.5" x2="751.5" y2="577.5" />
<line x1="751.5" y1="567.5" x2="799.5" y2="567.5" />
<line x1="765.5" y1="562.5" x2="799.5" y2="562.5" />
<path d="M888.5,551.5 V554.5 H799.5 V572.5 H886.5 V569.5 L885.5,568.5 H843.5" />
<line x1="890.5" y1="554.5" x2="894" y2="552" />
<path d="M799.5,559.5 H886.5 V562.5 H846 Q843.5,562.5 843.5,565.5 Q843.5,568.5 846,568.5" />
<path d="M799.5,561.5 H823.5 V568.5 H799.5 M823.5,561.5 H827 L830.5,563 V567 L827,568.5 H823.5" />
<line x1="800" y1="562" x2="800" y2="568" stroke-width="2"/>
<line x1="830" y1="563" x2="830" y2="567" stroke-width="2"/>
<line x1="831.5" y1="572.5" x2="831.5" y2="577.5" />
</g>
<text x="287.2" y="158.5" font-size="20" textLength="57.3" lengthAdjust="spacingAndGlyphs">183.6</text>
<text x="812.6" y="158.5" font-size="20" textLength="57.3" lengthAdjust="spacingAndGlyphs">125.4</text>
<text transform="translate(18.8,565.6) rotate(-90)" font-size="20" textLength="42.6" lengthAdjust="spacingAndGlyphs">256</text>
</svg>
</body>
</html>
